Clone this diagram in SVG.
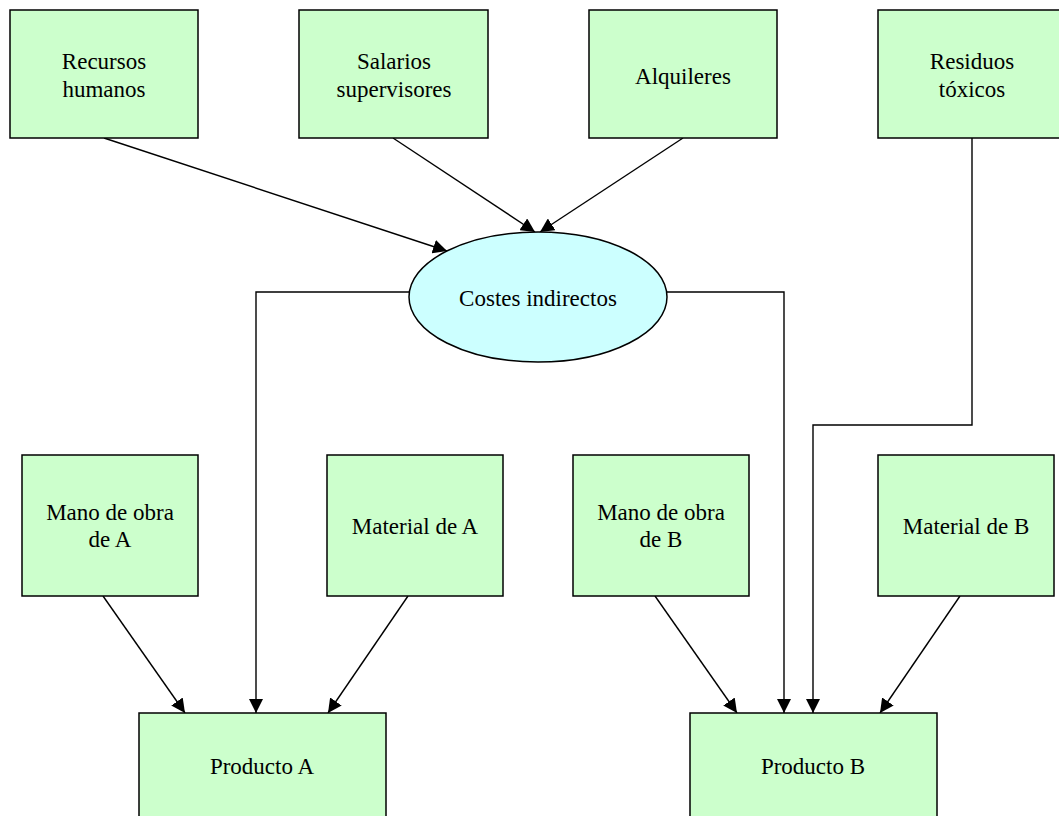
<svg xmlns="http://www.w3.org/2000/svg" width="1059" height="816" viewBox="0 0 1059 816">
  <style>
    .box { fill: #CCFFCC; stroke: #000; stroke-width: 1.5; }
    .oval { fill: #CCFFFF; stroke: #000; stroke-width: 1.5; }
    .lbl { font-family: "Liberation Serif", "Times New Roman", serif; font-size: 23px; fill: #000; text-anchor: middle; }
    .edge { fill: none; stroke: #000; stroke-width: 1.4; marker-end: url(#arrow); }
  </style>
  <defs>
    <marker id="arrow" markerUnits="userSpaceOnUse" markerWidth="14" markerHeight="14" refX="14" refY="7" orient="auto">
      <path d="M0,0 L14,7 L0,14 z" fill="#000"/>
    </marker>
  </defs>
  <rect width="1059" height="816" fill="#fff"/>

  <!-- connectors -->
  <g id="connectors">
    <line class="edge" x1="104" y1="138" x2="447" y2="251"/>
    <line class="edge" x1="393" y1="138" x2="535" y2="232"/>
    <line class="edge" x1="683" y1="138" x2="540" y2="232"/>
    <polyline class="edge" points="409,292 256,292 256,713"/>
    <polyline class="edge" points="667,292 784,292 784,713"/>
    <polyline class="edge" points="972,138 972,425 813,425 813,713"/>
    <line class="edge" x1="103" y1="596" x2="185" y2="713"/>
    <line class="edge" x1="408" y1="596" x2="328" y2="713"/>
    <line class="edge" x1="655" y1="596" x2="737" y2="713"/>
    <line class="edge" x1="960" y1="596" x2="880" y2="713"/>
  </g>

  <!-- cost sources -->
  <g id="recursos-humanos">
    <rect class="box" x="10" y="10" width="188" height="128"/>
    <text class="lbl" x="104" y="69">Recursos</text>
    <text class="lbl" x="104" y="97">humanos</text>
  </g>
  <g id="salarios-supervisores">
    <rect class="box" x="299" y="10" width="189" height="128"/>
    <text class="lbl" x="394" y="69">Salarios</text>
    <text class="lbl" x="394" y="97">supervisores</text>
  </g>
  <g id="alquileres">
    <rect class="box" x="589" y="10" width="188" height="128"/>
    <text class="lbl" x="683" y="84">Alquileres</text>
  </g>
  <g id="residuos-toxicos">
    <rect class="box" x="878" y="10" width="188" height="128"/>
    <text class="lbl" x="972" y="69">Residuos</text>
    <text class="lbl" x="972" y="97">tóxicos</text>
  </g>

  <!-- overhead pool -->
  <g id="costes-indirectos">
    <ellipse class="oval" cx="538" cy="297" rx="129" ry="65"/>
    <text class="lbl" x="538" y="306">Costes indirectos</text>
  </g>

  <!-- direct costs -->
  <g id="mano-obra-a">
    <rect class="box" x="22" y="455" width="176" height="141"/>
    <text class="lbl" x="110" y="520">Mano de obra</text>
    <text class="lbl" x="110" y="547">de A</text>
  </g>
  <g id="material-a">
    <rect class="box" x="327" y="455" width="176" height="141"/>
    <text class="lbl" x="415" y="534">Material de A</text>
  </g>
  <g id="mano-obra-b">
    <rect class="box" x="573" y="455" width="176" height="141"/>
    <text class="lbl" x="661" y="520">Mano de obra</text>
    <text class="lbl" x="661" y="547">de B</text>
  </g>
  <g id="material-b">
    <rect class="box" x="878" y="455" width="176" height="141"/>
    <text class="lbl" x="966" y="534">Material de B</text>
  </g>

  <!-- products -->
  <g id="producto-a">
    <rect class="box" x="139" y="713" width="247" height="130"/>
    <text class="lbl" x="262" y="774">Producto A</text>
  </g>
  <g id="producto-b">
    <rect class="box" x="690" y="713" width="247" height="130"/>
    <text class="lbl" x="813" y="774">Producto B</text>
  </g>
</svg>
